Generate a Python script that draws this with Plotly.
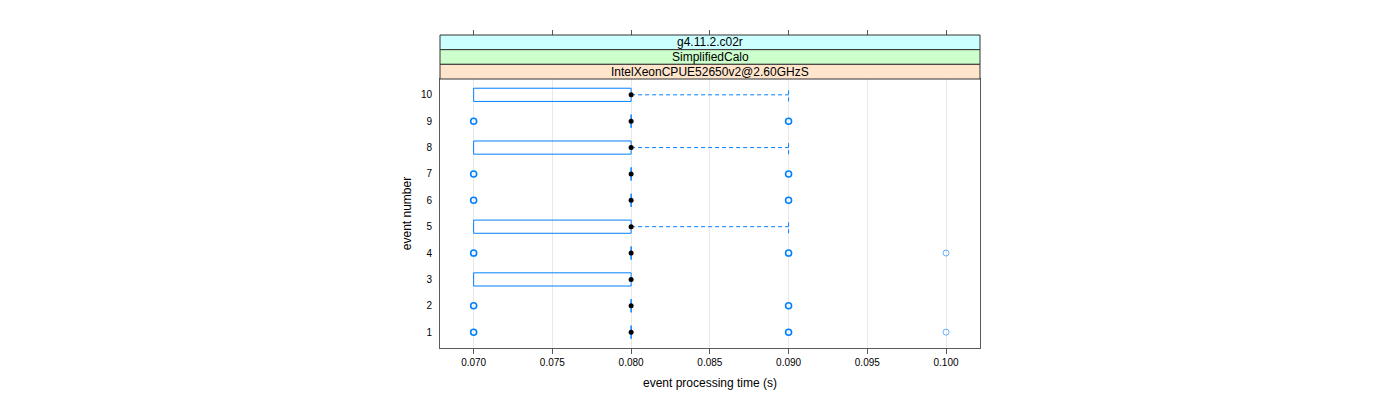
import plotly.graph_objects as go

# ---- data ----
events = [1, 2, 3, 4, 5, 6, 7, 8, 9, 10]
q1 = [0.08, 0.08, 0.07, 0.08, 0.07, 0.08, 0.08, 0.07, 0.08, 0.07]
median = [0.08] * 10
q3 = [0.08] * 10
whisker_lo = [0.08, 0.08, 0.07, 0.08, 0.07, 0.08, 0.08, 0.07, 0.08, 0.07]
whisker_hi = [0.08, 0.08, 0.08, 0.08, 0.09, 0.08, 0.08, 0.09, 0.08, 0.09]
# outliers: (event, value, count)
out_event = [1, 1, 1, 2, 2, 4, 4, 4, 6, 6, 7, 7, 9, 9]
out_value = [0.07, 0.09, 0.10, 0.07, 0.09, 0.07, 0.09, 0.10, 0.07, 0.09, 0.07, 0.09, 0.07, 0.09]
out_count = [3, 3, 1, 3, 2, 2, 3, 1, 2, 2, 2, 3, 2, 3]
x_ticks = [0.070, 0.075, 0.080, 0.085, 0.090, 0.095, 0.100]
x_tick_labels = ["0.070", "0.075", "0.080", "0.085", "0.090", "0.095", "0.100"]
strips = ["g4.11.2.c02r", "SimplifiedCalo", "IntelXeonCPUE52650v2@2.60GHzS"]
strip_colors = ["#ccffff", "#ccffcc", "#ffe5cc"]

BLUE = "#0080ff"
HW = 0.25  # half box height (box.ratio = 1)
FONT = "Liberation Sans, Arial, sans-serif"

fig = go.Figure()

# boxes
bx, by = [], []
for e, a, b in zip(events, q1, q3):
    bx += [a, b, b, a, a, None]
    by += [e - HW, e - HW, e + HW, e + HW, e - HW, None]
fig.add_trace(go.Scatter(x=bx, y=by, mode="lines", line=dict(color=BLUE, width=1),
                         hoverinfo="skip", showlegend=False))

# whiskers and caps (dashed)
wx, wy = [], []
for e, a, b, lo, hi in zip(events, q1, q3, whisker_lo, whisker_hi):
    if hi > b:
        wx += [b, hi, None, hi, hi, None]
        wy += [e, e, None, e - HW, e + HW, None]
    if lo < a:
        wx += [a, lo, None, lo, lo, None]
        wy += [e, e, None, e - HW, e + HW, None]
fig.add_trace(go.Scatter(x=wx, y=wy, mode="lines",
                         line=dict(color=BLUE, width=1, dash="4px,3px"),
                         hoverinfo="skip", showlegend=False))

# outliers
fig.add_trace(go.Scatter(
    x=out_value, y=out_event, mode="markers",
    marker=dict(symbol="circle-open", size=6,
                color=[BLUE if c > 1 else "rgba(0,128,255,0.6)" for c in out_count],
                line=dict(width=[1.6 if c > 1 else 1 for c in out_count])),
    showlegend=False))

# medians
fig.add_trace(go.Scatter(x=median, y=events, mode="markers",
                         marker=dict(symbol="circle", size=5, color="black"),
                         showlegend=False))

# invisible trace for top axis
fig.add_trace(go.Scatter(x=[x_ticks[0]], y=[1], xaxis="x2", mode="markers",
                         marker=dict(opacity=0), hoverinfo="skip", showlegend=False))

XR = [0.067863, 0.102156]
plot_top = 269 / 313

fig.update_layout(
    width=1400, height=400,
    margin=dict(l=432, r=428, t=27, b=60),
    paper_bgcolor="white", plot_bgcolor="white",
    font=dict(family=FONT, color="black", size=12),
    xaxis=dict(range=XR, tickvals=x_ticks, ticktext=x_tick_labels, automargin=False,
               tickfont=dict(size=10), ticks="outside", ticklen=5, tickcolor="#595959",
               showline=True, linecolor="#595959", linewidth=1, mirror=True,
               showgrid=True, gridcolor="#e8e8e8", zeroline=False,
               title=dict(text="event processing time (s)", standoff=11, font=dict(size=12))),
    xaxis2=dict(range=XR, overlaying="x", side="top", anchor="free", position=1,
                automargin=False,
                tickvals=x_ticks, showticklabels=False, ticks="outside", ticklen=5,
                tickcolor="#595959", showgrid=False, showline=False, zeroline=False),
    yaxis=dict(range=[0.4, 10.6], domain=[0, plot_top], tickvals=events, automargin=False,
               tickfont=dict(size=10), ticks="", ticklabelstandoff=5,
               showline=True, linecolor="#595959", linewidth=1, mirror=True,
               showgrid=False, zeroline=False,
               title=dict(text="event number", standoff=6, font=dict(size=12))),
)

# strips
band = (1 - plot_top) / 3
shapes = []
annotations = []
for i, (txt, col) in enumerate(zip(strips, strip_colors)):
    y1 = 1 - i * band
    y0 = y1 - band
    shapes.append(dict(type="rect", xref="paper", yref="paper", x0=0, x1=1, y0=y0, y1=y1,
                       fillcolor=col, line=dict(color="#333333", width=1), layer="above"))
    annotations.append(dict(text=txt, xref="paper", yref="paper", x=0.5, y=(y0 + y1) / 2,
                            showarrow=False, font=dict(size=12, family=FONT),
                            xanchor="center", yanchor="middle"))
fig.update_layout(shapes=shapes, annotations=annotations)

fig.write_html("out.html")
